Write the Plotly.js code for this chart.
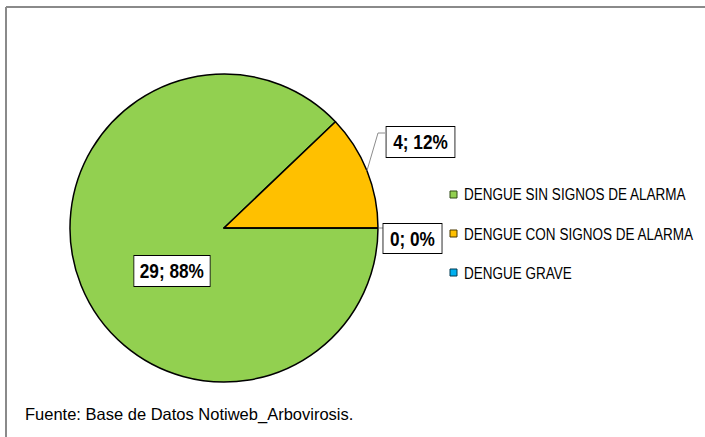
<!DOCTYPE html>
<html>
<head>
<meta charset="utf-8">
<script src="https://cdn.plot.ly/plotly-3.0.1.min.js"></script>
<style>html,body{margin:0;padding:0;background:#fff;}#chart{width:705px;height:437px;}</style>
</head>
<body>
<div id="chart"></div>
<script>
// ---- data ----
const categories = ['DENGUE SIN SIGNOS DE ALARMA', 'DENGUE CON SIGNOS DE ALARMA', 'DENGUE GRAVE'];
const cases = [29, 4, 0];
const sliceColors = ['#92D050', '#FFC000', '#00B0F0'];
const legendEdge = ['#2f4a14', '#4a3800', '#003a52'];
const sourceNote = 'Fuente: Base de Datos Notiweb_Arbovirosis.';

// ---- layout constants (pixels) ----
const W = 705, H = 437;
const cx = 224, cy = 228, R = 154;
const px = v => v / W, py = v => 1 - v / H;
const sans = '"Liberation Sans", Arial, sans-serif';
const condense = 0.82;   // narrow-font look

const total = cases.reduce((a, b) => a + b, 0);
const pct = cases.map(v => Math.round(100 * v / total));
const labelText = cases.map((v, i) => v + '; ' + pct[i] + '%');

// slice mid angles (clockwise from 12 o'clock, starting at rotation)
const rotation = 90;
let acc = 0;
const mids = cases.map(v => { const m = rotation + (acc + v / 2) * 360 / total; acc += v; return m; });
const edgePt = i => {
  const a = mids[i] * Math.PI / 180;
  return [cx + R * Math.sin(a), cy - R * Math.cos(a)];
};

// label boxes: centre and outer size in pixels
const labelPos = [[171.5, 271], [420.5, 142], [413, 238.5]];
const labelBox = [[77, 32], [70, 32], [60, 31]];
const pad = 3;

const annotations = labelText.map((t, i) => ({
  xref: 'paper', yref: 'paper', x: px(labelPos[i][0]), y: py(labelPos[i][1]),
  xanchor: 'center', yanchor: 'middle',
  width: labelBox[i][0] / condense - 2 * pad - 2, height: labelBox[i][1] - 2 * pad - 2,
  text: '<b>' + t + '</b>', showarrow: false,
  font: {family: sans, size: 21, color: '#000'},
  bgcolor: '#fff', bordercolor: '#000', borderwidth: 1, borderpad: pad
}));
const anchorMode = annotations.map(() => 'center');

// leader lines
const shapes = [];
const p1 = edgePt(1);
shapes.push({type: 'path', xref: 'paper', yref: 'paper',
  path: `M ${px(p1[0])} ${py(p1[1])} L ${px(378)} ${py(133)} L ${px(385)} ${py(133)}`,
  line: {color: '#8c8c8c', width: 1}});
const p2 = edgePt(2);
shapes.push({type: 'line', xref: 'paper', yref: 'paper',
  x0: px(p2[0]), y0: py(p2[1]), x1: px(383), y1: py(p2[1]),
  line: {color: '#8c8c8c', width: 1}});

// custom legend
const legX = 450, legY0 = 194.5, legGap = 39;
categories.forEach((c, i) => {
  const yc = legY0 + i * legGap;
  shapes.push({type: 'rect', xref: 'paper', yref: 'paper',
    x0: px(legX), x1: px(legX + 7), y0: py(yc - 3.5), y1: py(yc + 3.5),
    fillcolor: sliceColors[i], line: {color: legendEdge[i], width: 1}});
  annotations.push({xref: 'paper', yref: 'paper', x: px(legX + 13), y: py(yc),
    xanchor: 'left', yanchor: 'middle', text: c, showarrow: false, borderpad: 0,
    font: {family: sans, size: 16.5, color: '#000'}});
  anchorMode.push('left');
});

// frame (top + left edges)
shapes.push({type: 'line', xref: 'paper', yref: 'paper', x0: px(6), x1: px(W + 5), y0: py(7), y1: py(7), line: {color: '#8a8a8a', width: 2}});
shapes.push({type: 'line', xref: 'paper', yref: 'paper', x0: px(6), x1: px(6), y0: py(7), y1: py(H + 5), line: {color: '#8a8a8a', width: 2}});

annotations.push({xref: 'paper', yref: 'paper', x: px(23), y: py(414), xanchor: 'left', yanchor: 'middle',
  text: sourceNote, showarrow: false, font: {family: sans, size: 16.5, color: '#000'}});
anchorMode.push('none');

const trace = {
  type: 'pie', labels: categories, values: cases, sort: false,
  direction: 'clockwise', rotation: rotation,
  marker: {colors: sliceColors, line: {color: '#000', width: 1.5}},
  textinfo: 'none', hoverinfo: 'label+value+percent', showlegend: false,
  domain: {x: [px(cx - R), px(cx + R)], y: [py(cy + R), py(cy - R)]}
};

Plotly.newPlot('chart', [trace], {
  width: W, height: H, margin: {l: 0, r: 0, t: 0, b: 0},
  paper_bgcolor: '#fff', showlegend: false,
  annotations: annotations, shapes: shapes
}, {staticPlot: true}).then(gd => {
  gd.querySelectorAll('g.annotation').forEach(g => {
    const idx = +g.getAttribute('data-index');
    const mode = anchorMode[idx];
    if (mode === 'none') return;
    const tg = g.querySelector('g.annotation-text-g');
    const bb = tg.getBBox();
    const pivot = mode === 'left' ? bb.x : bb.x + bb.width / 2;
    tg.setAttribute('transform', `translate(${pivot},0) scale(${condense},1) translate(${-pivot},0)`);
  });
});
</script>
</body>
</html>
